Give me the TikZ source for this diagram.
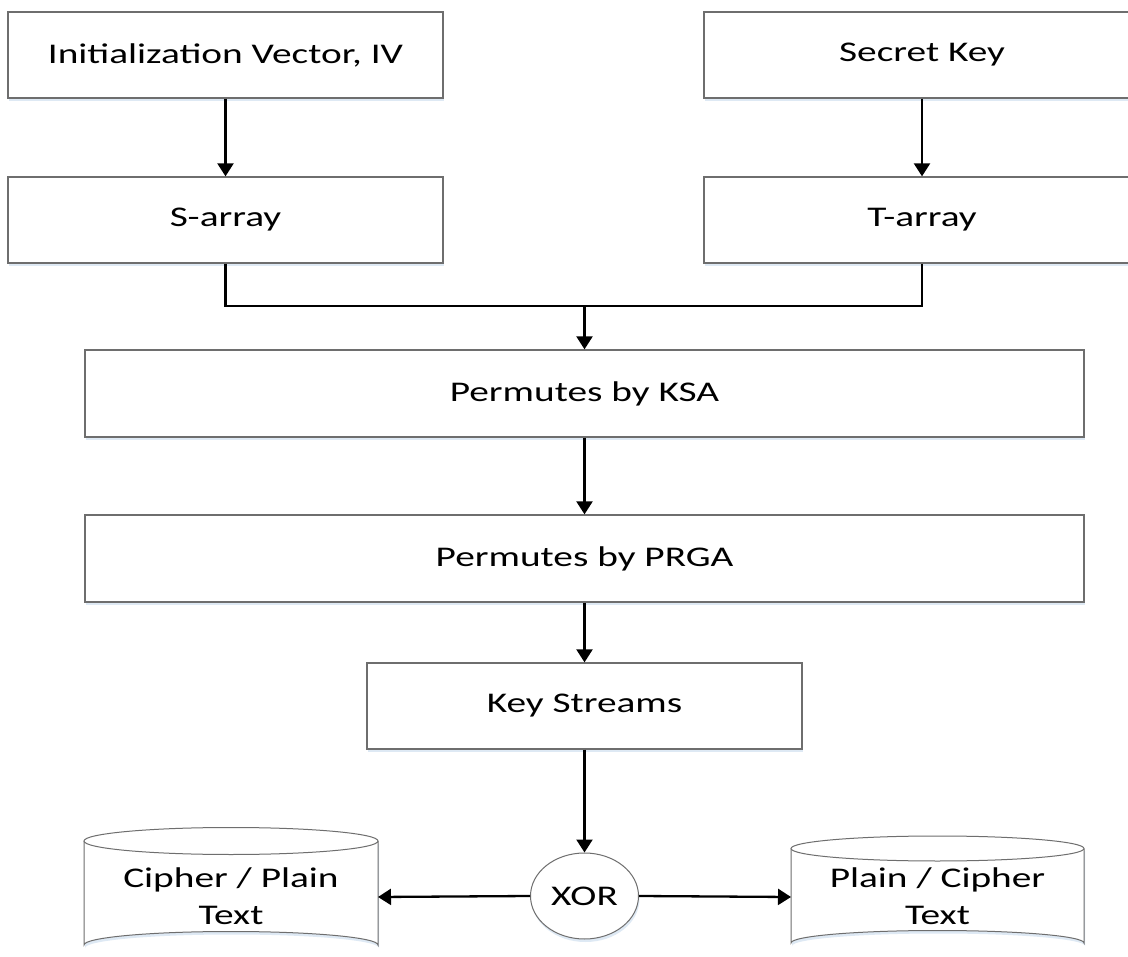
\documentclass[tikz,border=0pt]{standalone}
\usepackage{fontspec}
\setmainfont[FakeStretch=1.38]{Carlito}
\usetikzlibrary{arrows.meta,shapes.geometric,shadows}
\definecolor{bordergray}{HTML}{6E6E6E}
\definecolor{shadowblue}{HTML}{D6E4F2}
\begin{document}
\begin{tikzpicture}[x=1pt,y=-1pt,
  every node/.style={font=\fontsize{28.5}{37}\selectfont},
  boxstyle/.style={draw=bordergray, line width=1.3pt, fill=white, rectangle,
    minimum height=86pt, inner sep=0pt,
    drop shadow={shadow xshift=1pt, shadow yshift=-3pt, fill=shadowblue, opacity=0.8}},
  xorstyle/.style={draw=bordergray, line width=1pt, fill=white, ellipse,
    minimum width=108pt, minimum height=86pt, inner sep=0pt,
    drop shadow={shadow xshift=1pt, shadow yshift=-3pt, fill=shadowblue, opacity=0.8}},
  cylline/.style={draw=bordergray, line width=1pt},
  arrowline/.style={line width=2.3pt, -{Triangle[length=13pt,width=16pt]}},
  plainline/.style={line width=2.3pt}
]
\clip (0,0) rectangle (1128,957);
\fill[white] (0,0) rectangle (1128,957);

% boxes
\node[boxstyle, minimum width=435pt] (iv) at (225.5,55) {Initialization Vector, IV};
\node[boxstyle, minimum width=436pt] (sk) at (922,55) {Secret Key};
\node[boxstyle, minimum width=435pt] (sarr) at (225.5,220) {S-array};
\node[boxstyle, minimum width=436pt] (tarr) at (922,220) {T-array};
\node[boxstyle, minimum width=999pt, minimum height=87pt] (ksa) at (584.5,393.5) {Permutes by KSA};
\node[boxstyle, minimum width=999pt, minimum height=87pt] (prga) at (584.5,558.5) {Permutes by PRGA};
\node[boxstyle, minimum width=435pt] (ks) at (584.5,706) {Key Streams};
\node[xorstyle] (xor) at (584.5,896) {XOR};

% left cylinder
\fill[shadowblue, opacity=0.8] (85,844) -- (85,948) arc[start angle=180, end angle=360, x radius=147, y radius=13.5] -- (379,844) -- cycle;
\filldraw[cylline, fill=white] (84,841) -- (84,945) arc[start angle=180, end angle=360, x radius=147, y radius=13.5] -- (378,841);
\filldraw[cylline, fill=white] (231,841) ellipse[x radius=147, y radius=13.5];
\node[align=center] (cpt) at (231,896) {Cipher / Plain\\Text};
\coordinate (cylL) at (378,897);

% right cylinder
\fill[shadowblue, opacity=0.8] (792,851) -- (792,946) arc[start angle=180, end angle=360, x radius=146.5, y radius=12.5] -- (1085,851) -- cycle;
\filldraw[cylline, fill=white] (791,848.5) -- (791,943) arc[start angle=180, end angle=360, x radius=146.5, y radius=12.5] -- (1084,848.5);
\filldraw[cylline, fill=white] (937.5,848.5) ellipse[x radius=146.5, y radius=12.5];
\node[align=center] (pct) at (937.5,896) {Plain / Cipher\\Text};
\coordinate (cylR) at (791,897);

% connectors
\draw[arrowline] (iv.south) -- (sarr.north);
\draw[arrowline] (sk.south -| tarr.south) -- (tarr.north);
\coordinate (join) at (584.5,306);
\draw[plainline] (sarr.south) |- (join);
\draw[plainline] (tarr.south) |- (join);
\draw[arrowline] (join) -- (ksa.north);
\draw[arrowline] (ksa.south) -- (prga.north);
\draw[arrowline] (prga.south) -- (ks.north);
\draw[arrowline] (ks.south) -- (xor.north);
\draw[arrowline] (xor.west) -- (cylL);
\draw[arrowline] (xor.east) -- (cylR);
\end{tikzpicture}
\end{document}
